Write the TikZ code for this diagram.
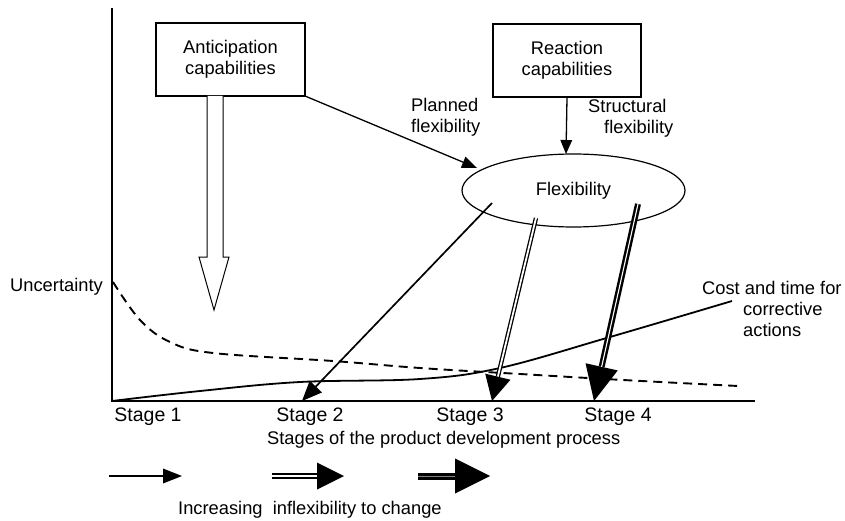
\documentclass[tikz,border=0pt]{standalone}
\usepackage{fontspec}
\setmainfont{Liberation Sans}
\usetikzlibrary{shapes.geometric,calc}
\newcommand\flecha[5]{%
  \path ($(#3)!#4!(#2)$) coordinate (hb);
  \draw[#1] (#2) -- (hb);
  \fill (#3) -- ($(hb)!#5/2!90:(#3)$) -- ($(hb)!#5/2!-90:(#3)$) -- cycle;}
\begin{document}
\begin{tikzpicture}[x=1pt,y=-1pt,
  txt/.style={font=\fontsize{18.3}{21}\selectfont, inner sep=0pt},
  stg/.style={font=\fontsize{19.5}{21}\selectfont, inner sep=0pt},
  capbox/.style={draw, line width=1.2pt, minimum width=149pt, minimum height=73pt, align=center, font=\fontsize{18.3}{21}\selectfont},
  axis/.style={line width=1.6pt}]
\useasboundingbox (0,0) rectangle (845,521);
% axes
\coordinate (ytop) at (112,8);
\coordinate (orig) at (112,401);
\coordinate (xend) at (755,401);
\draw[axis] (ytop) -- (orig) -- (xend);
% boxes
\node[capbox] (ant) at (230.5,59.5) {Anticipation\\capabilities};
\node[capbox, minimum width=148pt] (rea) at (567,60.5) {Reaction\\capabilities};
\node[draw, ellipse, line width=1.2pt, minimum width=223pt, minimum height=73pt, txt] (flex) at (573.5,190.5) {Flexibility};
% labels
\node[txt, anchor=west, align=left] (plan) at (411,117) {Planned\\flexibility};
\node[txt, anchor=west, align=left] (struc) at (588,118) {Structural\\\hspace*{16pt}flexibility};
\node[txt, anchor=west] (unc) at (10,287) {Uncertainty};
\node[txt, anchor=north west, align=left] (cost) at (702,281) {Cost and time for\\\hspace*{41pt}corrective\\\hspace*{41pt}actions};
\node[stg] (s1) at (148,417) {Stage 1};
\node[stg] (s2) at (310,417) {Stage 2};
\node[stg] (s3) at (470,417) {Stage 3};
\node[stg] (s4) at (618,417) {Stage 4};
\node[txt, anchor=west] (stgs) at (267,440) {Stages of the product development process};
\node[txt, anchor=west] (inc) at (178,510) {Increasing\ \ inflexibility to change};
% hollow arrow
\draw[line width=1pt, fill=white] (207,96) -- (207,257) -- (199,257) -- (214,310) -- (229,257) -- (223,257) -- (223,96);
% curves
\draw[line width=1.9pt, dash pattern=on 9pt off 6pt] plot[smooth, tension=0.6] coordinates {(113,282) (140,320) (170,342) (213,353) (333,361) (420,368) (520,374) (623,380) (738,386)};
\draw[line width=1.8pt] plot[smooth, tension=0.6] coordinates {(112,401) (200,391) (300,382) (420,379) (500,368) (610,337) (732,301)};
% arrows
\coordinate (pa) at (305,96);
\coordinate (pt) at (477,168);
\flecha{line width=1.3pt}{pa}{pt}{15pt}{12pt}
\coordinate (ra) at (rea.south);
\coordinate (rt) at (566,154);
\flecha{line width=1.3pt}{ra}{rt}{14pt}{12pt}
\coordinate (f2s) at (492,203);
\coordinate (f2t) at (302,401);
\flecha{line width=1.7pt}{f2s}{f2t}{20pt}{17pt}
\coordinate (f3s) at (536,218);
\coordinate (f3t) at (492,401);
\flecha{double, double distance=1.8pt, line width=1.3pt}{f3s}{f3t}{25pt}{26pt}
\coordinate (f4s) at (638,204);
\coordinate (f4t) at (594,401);
\flecha{line width=6pt}{f4s}{f4t}{35pt}{33pt}
\draw[white, line width=1.1pt, xshift=-0.9pt] (f4s) -- (hb);
% bottom arrows
\coordinate (b1s) at (109,476);
\coordinate (b1t) at (182,476);
\flecha{line width=2pt}{b1s}{b1t}{19pt}{15pt}
\coordinate (b2s) at (272,476);
\coordinate (b2t) at (344,476);
\flecha{double, double distance=2pt, line width=1.8pt}{b2s}{b2t}{27pt}{27pt}
\coordinate (b3s) at (418,476);
\coordinate (b3t) at (490,476);
\flecha{line width=7pt}{b3s}{b3t}{35pt}{35pt}
\draw[gray, line width=0.6pt] (b3s) -- (hb);
\end{tikzpicture}
\end{document}
